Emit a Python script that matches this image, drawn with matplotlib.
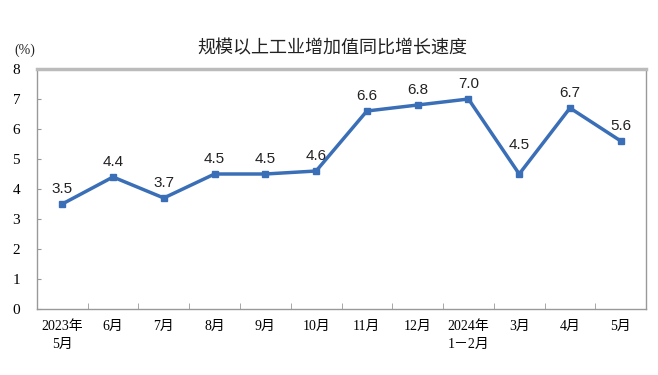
import matplotlib
matplotlib.use('Agg')
import matplotlib.pyplot as plt
from matplotlib.ticker import FixedLocator

# Data
months = ['2023年\n5月', '6月', '7月', '8月', '9月', '10月', '11月', '12月',
          '2024年\n1－2月', '3月', '4月', '5月']
growth = [3.5, 4.4, 3.7, 4.5, 4.5, 4.6, 6.6, 6.8, 7.0, 4.5, 6.7, 5.6]
y_ticks = list(range(0, 9))

plt.rcParams['font.family'] = ['Liberation Serif', 'Noto Sans CJK SC', 'DejaVu Sans']

fig = plt.figure(figsize=(6.58, 3.75), dpi=100)
ax = fig.add_axes([0.056, 0.176, 0.926, 0.64])

x = list(range(len(months)))
ax.plot(x, growth, color='#3a6fb7', linewidth=2.5, marker='s', markersize=4,
        markerfacecolor='#3a6fb7', markeredgecolor='#3a6fb7')

for xi, v in zip(x, growth):
    # the March dip label sits higher, clear of the line
    dy = 16 if xi == 9 else 6
    ax.annotate(f'{v:.1f}', (xi, v), xytext=(0, dy), textcoords='offset points',
                ha='center', va='bottom', fontsize=11, family=['Liberation Sans', 'DejaVu Sans'],
                color='#222222')

ax.set_xlim(-0.5, len(months) - 0.5)
ax.set_ylim(0, 8)
ax.set_yticks(y_ticks)
ax.set_xticks(x)
ax.set_xticklabels(months, fontsize=10, linespacing=1.5)
ax.tick_params(axis='x', which='major', length=0, pad=8)
ax.xaxis.set_minor_locator(FixedLocator([i + 0.5 for i in range(len(months) - 1)]))
ax.tick_params(axis='x', which='minor', length=4, direction='in', color='#999999')
ax.tick_params(axis='y', length=3, direction='in', color='#999999', labelsize=11, pad=12)

for side in ['left', 'bottom', 'right']:
    ax.spines[side].set_color('#999999')
    ax.spines[side].set_linewidth(1)
ax.spines['top'].set_color('#bbbbbb')
ax.spines['top'].set_linewidth(2.5)

fig.text(0.505, 0.872, '规模以上工业增加值同比增长速度', ha='center', va='center',
         fontsize=13, family=['Noto Sans CJK SC'], color='#222222')
fig.text(0.038, 0.865, '(%)', ha='center', va='center', fontsize=10, color='#222222')

fig.savefig('out.png', dpi=100)
